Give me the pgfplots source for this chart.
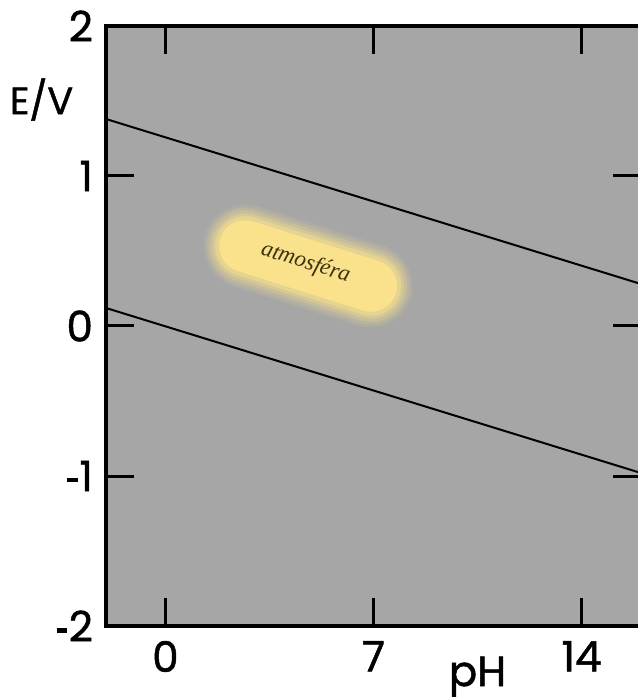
\documentclass[border=0pt]{standalone}
\usepackage{pgfplots}
\pgfplotsset{compat=1.18}
\usepackage{fontspec}
\setmainfont{Poppins}[FakeBold=1.2]
\newfontfamily\labfont{Poppins}[FakeBold=1.2]
\newfontfamily\serifit{Liberation Serif}
\newcommand\hy{\rule[0.21em]{0.25em}{0.1em}\kern0.04em}
\definecolor{bggray}{RGB}{166,166,166}
\definecolor{blob}{RGB}{250,226,140}
\definecolor{blobtext}{RGB}{60,50,15}
\tikzset{blobnode/.style={fill=blob, inner sep=0pt, rotate=-17.5}}
\begin{document}
\begin{tikzpicture}
\begin{axis}[
  name=ax,
  scale only axis,
  width=267.5pt, height=300pt,
  xmin=-2, xmax=16, ymin=-2, ymax=2,
  axis background/.style={fill=bggray},
  axis line style={line width=2pt},
  xtick={0,7,14}, ytick={-2,-1,0,1,2},
  xticklabels={\mbox{0},\mbox{7},\mbox{14}},
  yticklabels={\mbox{\hy 2},\mbox{\hy 1},\mbox{0},\mbox{1},\mbox{2}},
  tick style={line width=1.5pt, black},
  major tick length=14pt,
  tick align=inside,
  xtick pos=both, ytick pos=both,
  xticklabel pos=lower, yticklabel pos=left,
  ticklabel style={font=\labfont\fontsize{21}{24}\selectfont},
  xticklabel style={yshift=-4pt},
  yticklabel style={xshift=-3pt},
  clip=false,
]
\addplot[black, line width=1pt] coordinates {(-2,1.38) (16,0.28)};
\addplot[black, line width=1pt] coordinates {(-2,0.12) (16,-0.98)};
\node[blobnode, fill opacity=0.1, rounded corners=22pt, minimum width=108pt, minimum height=42pt] at (axis cs:4.8,0.4) {};
\node[blobnode, fill opacity=0.15, rounded corners=20pt, minimum width=105pt, minimum height=39pt] at (axis cs:4.8,0.4) {};
\node[blobnode, fill opacity=0.2, rounded corners=18pt, minimum width=102pt, minimum height=36pt] at (axis cs:4.8,0.4) {};
\node[blobnode, fill opacity=0.3, rounded corners=17pt, minimum width=99pt, minimum height=33pt] at (axis cs:4.8,0.4) {};
\node[blobnode, fill opacity=0.45, rounded corners=15pt, minimum width=96pt, minimum height=30pt] at (axis cs:4.8,0.4) {};
\node[blobnode, fill opacity=1, rounded corners=13pt, minimum width=92pt, minimum height=26pt] at (axis cs:4.8,0.4) {};
\node[rotate=-17.5, text=blobtext, font=\serifit\itshape\fontsize{11.5}{13}\selectfont] at (axis cs:4.72,0.42) {atmosféra};
\node[font=\labfont\fontsize{19}{22}\selectfont] at (axis cs:-4.17,1.51) {E/V};
\node[font=\labfont\fontsize{21}{24}\selectfont, anchor=base, inner sep=0pt] at (axis cs:10.5,-2) [yshift=-30pt] {pH};
\end{axis}
\pgfresetboundingbox
\useasboundingbox ([xshift=-53pt,yshift=-35.5pt]ax.south west) rectangle ([xshift=-1.5pt,yshift=13pt]ax.north east);
\end{tikzpicture}
\end{document}
